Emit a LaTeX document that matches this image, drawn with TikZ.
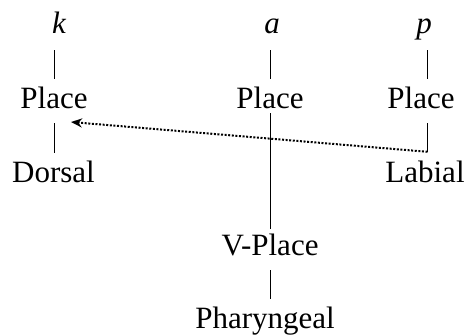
\documentclass[tikz,border=0pt]{standalone}
\usepackage{fontspec}
\setmainfont{Liberation Serif}
\usetikzlibrary{arrows.meta,calc}
\begin{document}
\begin{tikzpicture}[x=1pt,y=-1pt,
  lab/.style={anchor=base, inner sep=0pt, text height=21pt, text depth=0pt, font=\fontsize{31}{36}\selectfont},
  seg/.style={line width=1pt},
  assoc/.style={line width=2pt, dash pattern=on 2pt off 1.6pt, -{Stealth[length=11pt,width=9pt,inset=3.5pt]}}]
\useasboundingbox (0,0) rectangle (466,335);
\coordinate (ck) at (54.5,0);
\coordinate (ca) at (270.5,0);
\coordinate (cp) at (427.5,0);
% segments
\node[lab] (k) at (59,33) {\itshape k};
\node[lab] (a) at (272,33) {\itshape a};
\node[lab] (p) at (424,33) {\itshape p};
\node[lab] (kP) at (54,108) {Place};
\node[lab] (aP) at (270,108) {Place};
\node[lab] (pP) at (421,108) {Place};
\node[lab] (D) at (53.5,182) {Dorsal};
\node[lab] (pL) at (425,182) {Labial};
\node[lab] (VP) at (270,255) {V-Place};
\node[lab] (Ph) at (265,328) {Pharyngeal};
% association lines
\draw[seg, shorten <=17pt, shorten >=8pt] (ck |- k.south) -- (ck |- kP.north);
\draw[seg, shorten <=17pt, shorten >=8pt] (ca |- a.south) -- (ca |- aP.north);
\draw[seg, shorten <=17pt, shorten >=8pt] (cp |- p.south) -- (cp |- pP.north);
\draw[seg, shorten <=15pt, shorten >=8pt] (ck |- kP.south) -- (ck |- D.north);
\draw[seg, shorten <=15pt, shorten >=9pt] (cp |- pP.south) -- (cp |- pL.north);
\draw[seg, shorten <=5pt, shorten >=5pt] (ca |- aP.south) -- (ca |- VP.north);
\draw[seg, shorten <=15pt, shorten >=8pt] (ca |- VP.south) -- (ca |- Ph.north);
% spreading arrow
\coordinate (pe) at ($(cp |- pL.north)+(0,-9)$);
\coordinate (tip) at ($(kP.base)+(17,14)$);
\draw[assoc] (pe) -- (tip);
\end{tikzpicture}
\end{document}
